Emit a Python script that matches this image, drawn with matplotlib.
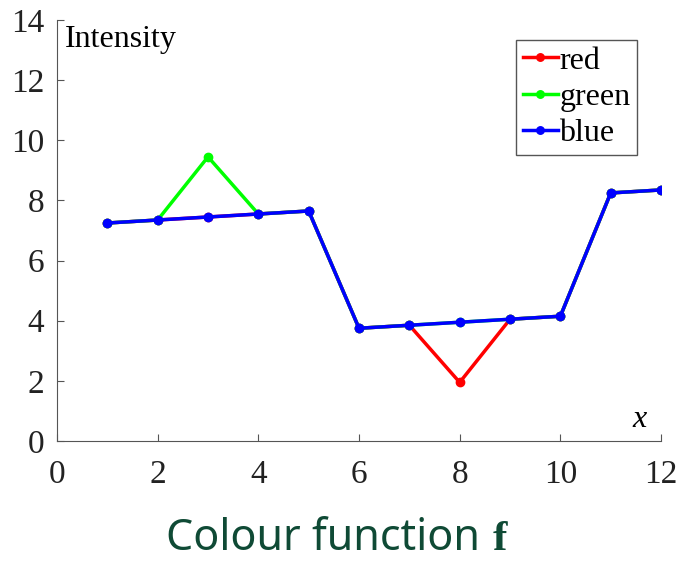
import matplotlib.pyplot as plt

# data
x = [1, 2, 3, 4, 5, 6, 7, 8, 9, 10, 11, 12]
blue = [7.25, 7.35, 7.45, 7.55, 7.65, 3.75, 3.85, 3.95, 4.05, 4.15, 8.25, 8.35]
red = [7.25, 7.35, 7.45, 7.55, 7.65, 3.75, 3.85, 1.95, 4.05, 4.15, 8.25, 8.35]
green = [7.25, 7.35, 9.45, 7.55, 7.65, 3.75, 3.85, 3.95, 4.05, 4.15, 8.25, 8.35]
xticks = [0, 2, 4, 6, 8, 10, 12]
yticks = [0, 2, 4, 6, 8, 10, 12, 14]

serif = 'Liberation Serif'

fig = plt.figure(figsize=(6.81, 5.62), dpi=100)
ax = fig.add_axes([0.0837, 0.2153, 0.887, 0.749])

ax.plot(x, red, color='#ff0000', lw=2.5, marker='o', ms=6, label='red')
ax.plot(x, green, color='#00ff00', lw=2.5, marker='o', ms=6, label='green')
ax.plot(x, blue, color='#0000ff', lw=2.5, marker='o', ms=6, label='blue')

ax.set_xlim(0, 12)
ax.set_ylim(0, 14)
ax.set_xticks(xticks)
ax.set_yticks(yticks)
ax.spines['top'].set_visible(False)
ax.spines['right'].set_visible(False)
for s in ('left', 'bottom'):
    ax.spines[s].set_color('#555555')
ax.tick_params(direction='in', length=5, color='#555555', labelsize=24,
               labelcolor='#222222')
ax.tick_params(axis='x', pad=13)
ax.tick_params(axis='y', pad=9)
for lab in ax.get_xticklabels() + ax.get_yticklabels():
    lab.set_family(serif)

ax.text(0.013, 0.955, 'Intensity', transform=ax.transAxes, family=serif,
        fontsize=23, va='center', ha='left')
ax.text(0.965, 0.05, 'x', transform=ax.transAxes, family=serif,
        fontsize=23, style='italic', va='center', ha='center')

leg = ax.legend(loc='upper right', bbox_to_anchor=(0.96, 0.953),
                prop={'family': serif, 'size': 23}, handlelength=1.1,
                handletextpad=0.05, borderpad=0.2, labelspacing=0.22,
                borderaxespad=0.0, fancybox=False, edgecolor='#555555',
                framealpha=1, markerscale=0.9)
leg.get_frame().set_linewidth(1)

fig.text(0.722, 0.022, 'Colour function ', color='#0f4a35', fontsize=31,
         family='Noto Sans', ha='right', va='baseline')
fig.text(0.724, 0.022, 'f', color='#0f4a35', fontsize=31, family=serif,
         weight='bold', ha='left', va='baseline')

fig.savefig('out.png', dpi=100)
